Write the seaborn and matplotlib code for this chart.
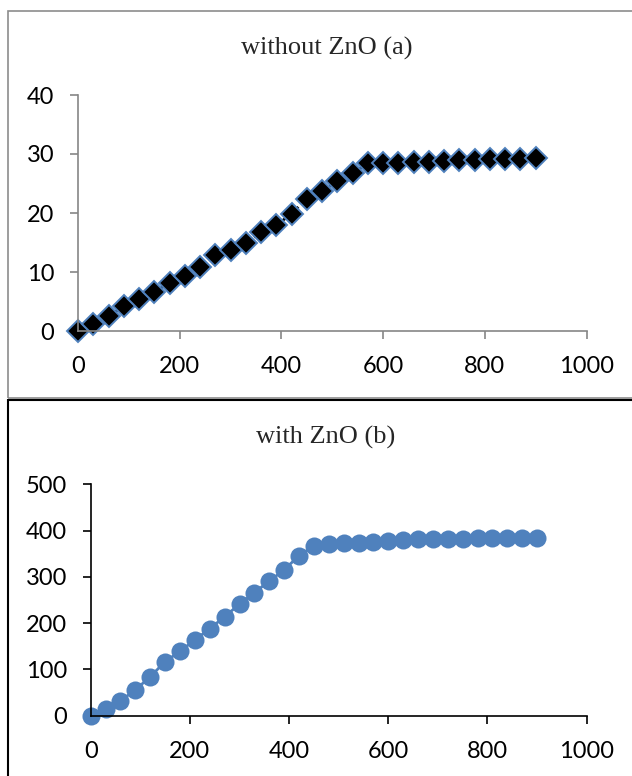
import numpy as np
import matplotlib
matplotlib.use("Agg")
import matplotlib.pyplot as plt
import seaborn as sns
from matplotlib.patches import Rectangle

# time values shared by both panels
time_s = list(range(0, 901, 30))

# panel (a): without ZnO
without_zno = [0, 1.2, 2.5, 4.2, 5.4, 6.6, 8.2, 9.4, 10.9, 12.8, 13.8,
               15.0, 16.7, 17.9, 19.9, 22.4, 23.7, 25.4, 26.7, 28.4, 28.4,
               28.5, 28.6, 28.7, 28.8, 28.9, 29.0, 29.1, 29.2, 29.2, 29.3]

# panel (b): with ZnO
with_zno = [0, 14, 32, 56, 84, 117, 139, 164, 188, 214, 241,
            266, 291, 315, 346, 367, 372, 373, 374, 375, 378,
            380, 381, 381, 382, 382, 383, 383, 383, 383, 384]

x_ticks = [0, 200, 400, 600, 800, 1000]
y_ticks_a = [0, 10, 20, 30, 40]
y_ticks_b = [0, 100, 200, 300, 400, 500]

BLUE = "#4F81BD"

sns.set_style("white")
plt.rcParams['font.family'] = ['Lato', 'DejaVu Sans']

fig = plt.figure(figsize=(6.32, 7.76), dpi=100)

# panel borders (in pixel coords converted to figure fraction)
W, H = 632, 776
fig.patches.append(Rectangle((8 / W, 1 - 398 / H), 700 / W, 387 / H,
                             transform=fig.transFigure, fill=False,
                             edgecolor="#8c8c8c", linewidth=1.2, zorder=0))
fig.patches.append(Rectangle((8 / W, -0.05), 700 / W, 1 - 400 / H + 0.05,
                             transform=fig.transFigure, fill=False,
                             edgecolor="black", linewidth=1.5, zorder=0))


def style_axes(ax, spine_color, yticks):
    ax.set_xlim(0, 1000)
    ax.set_ylim(yticks[0], yticks[-1])
    ax.set_xticks(x_ticks)
    ax.set_yticks(yticks)
    for side in ["top", "right"]:
        ax.spines[side].set_visible(False)
    for side in ["left", "bottom"]:
        ax.spines[side].set_color(spine_color)
        ax.spines[side].set_linewidth(1.2)
    ax.tick_params(axis="both", direction="out", length=6, width=1.2,
                   color=spine_color, labelsize=17, labelcolor="black",
                   bottom=True, left=True)
    ax.tick_params(axis="x", pad=12)
    ax.tick_params(axis="y", pad=11)
    ax.set_xlabel("")
    ax.set_ylabel("")
    ax.grid(False)
    ax.patch.set_alpha(0)


ax1 = fig.add_axes([78 / W, 1 - 331 / H, 508.5 / W, 236 / H])
sns.lineplot(x=time_s, y=without_zno, ax=ax1, color="black",
             linestyle=(0, (1.5, 1.5)), linewidth=2,
             marker="D", markersize=11.5, markerfacecolor="black",
             markeredgecolor=BLUE, markeredgewidth=1.4)
style_axes(ax1, "#868686", y_ticks_a)
for c in ax1.lines:
    c.set_clip_on(False)

ax2 = fig.add_axes([90.7 / W, 1 - 715.7 / H, 496 / W, 231.4 / H])
sns.lineplot(x=time_s, y=with_zno, ax=ax2, color=BLUE, linewidth=2,
             marker="o", markersize=13, markerfacecolor=BLUE,
             markeredgecolor=BLUE, markeredgewidth=0)
style_axes(ax2, "black", y_ticks_b)
for c in ax2.lines:
    c.set_clip_on(False)

fig.text(327 / W, 1 - 48 / H, "without ZnO (a)", ha="center", va="center",
         fontsize=19, family=["Liberation Serif", "DejaVu Serif"])
fig.text(326 / W, 1 - 437 / H, "with ZnO (b)", ha="center", va="center",
         fontsize=19, family=["Liberation Serif", "DejaVu Serif"])

fig.savefig("out.png", dpi=100)
